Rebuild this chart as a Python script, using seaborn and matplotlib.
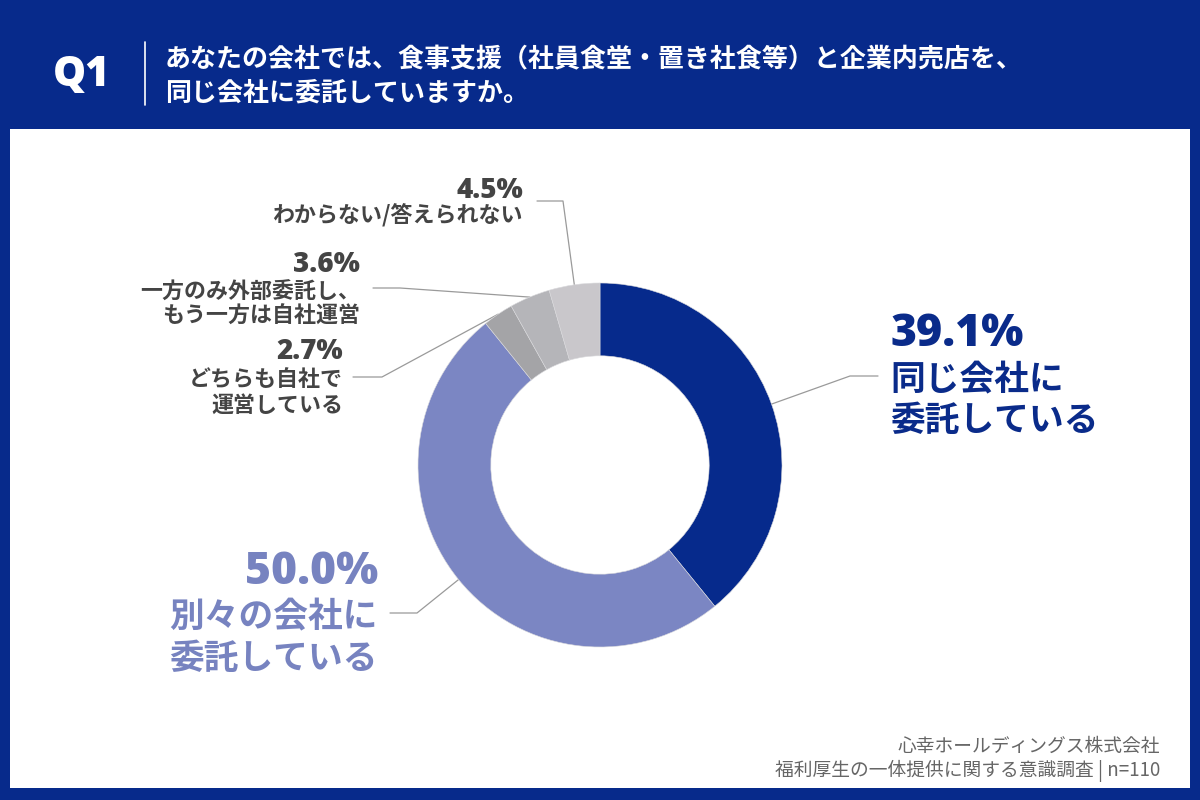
import matplotlib
matplotlib.use("Agg")
import matplotlib.pyplot as plt
import seaborn as sns
import numpy as np
from matplotlib.patches import Rectangle
from matplotlib.lines import Line2D

# ---- data ----
categories = ["同じ会社に\n委託している", "別々の会社に\n委託している", "どちらも自社で\n運営している",
              "一方のみ外部委託し、\nもう一方は自社運営", "わからない/答えられない"]
values = [39.1, 50.0, 2.7, 3.6, 4.5]
pct_labels = ["39.1%", "50.0%", "2.7%", "3.6%", "4.5%"]
title_lines = ["あなたの会社では、食事支援（社員食堂・置き社食等）と企業内売店を、",
               "同じ会社に委託していますか。"]
source_lines = ["心幸ホールディングス株式会社", "福利厚生の一体提供に関する意識調査 | n=110"]

NAVY = "#072a8b"
colors = sns.color_palette(["#062a8c", "#7b86c3", "#a4a4a7", "#b5b5b9", "#c9c7cb"])
text_colors = ["#0a2b8a", "#7783c0", "#444444", "#444444", "#444444"]

sns.set_theme(style="white")
plt.rcParams["font.family"] = ["Noto Sans CJK JP", "DejaVu Sans"]

W, H = 1200, 800
fig = plt.figure(figsize=(12, 8), dpi=100)
fig.patch.set_facecolor(NAVY)

def P(x, y):
    return (x / W, 1 - y / H)

# white panel
panel = Rectangle(P(10, 788), 1180 / W, 659 / H, transform=fig.transFigure,
                  facecolor="white", edgecolor="none", zorder=-5)
fig.patches.append(panel)

# header
fig.text(*P(82, 75), "Q1", color="white", fontsize=30, fontweight="heavy", ha="center", va="center",
         family=["Open Sans", "DejaVu Sans"])
fig.add_artist(Line2D([145 / W, 145 / W], [1 - 42 / H, 1 - 105 / H], color="white", lw=1.2))
fig.text(*P(165, 60), title_lines[0], color="white", fontsize=18.7, fontweight="bold", ha="left", va="center")
fig.text(*P(165, 93), title_lines[1], color="white", fontsize=18.7, fontweight="bold", ha="left", va="center")

# donut
cx, cy, R = 600, 465, 182
ax = fig.add_axes([(cx - R) / W, (H - cy - R) / H, 2 * R / W, 2 * R / H], zorder=3)
ax.patch.set_alpha(0)
wedges, _ = ax.pie(values, colors=colors, startangle=90, counterclock=False, radius=1.0,
                   wedgeprops=dict(width=0.4, edgecolor="#d9d9dc", linewidth=0.4))
ax.set_xlim(-1, 1)
ax.set_ylim(-1, 1)
ax.set_aspect("equal")
ax.axis("off")

inv = fig.transFigure.inverted()

def edge_point(w):
    ang = np.deg2rad((w.theta1 + w.theta2) / 2)
    disp = ax.transData.transform((np.cos(ang), np.sin(ang)))
    return inv.transform(disp)

layout = [
    dict(elbow=(850, 376), end=(878, 376), tx=890, ha="left", ys=[335, 380, 420], fs=(32, 25)),
    dict(elbow=(417, 613), end=(390, 613), tx=378, ha="right", ys=[573, 617, 658], fs=(32, 25)),
    dict(elbow=(382, 377), end=(353, 377), tx=343, ha="right", ys=[352, 379, 405], fs=(20, 15.8)),
    dict(elbow=(400, 288), end=(373, 288), tx=360, ha="right", ys=[265, 292, 316], fs=(20, 15.8)),
    dict(elbow=(563, 201), end=(537, 201), tx=523, ha="right", ys=[190, 215], fs=(20, 15.8)),
]

for w, lay, pct, cat, tc in zip(wedges, layout, pct_labels, categories, text_colors):
    sx, sy = edge_point(w)
    ex, ey = P(*lay["elbow"])
    tx, ty = P(*lay["end"])
    fig.add_artist(Line2D([sx, ex, tx], [sy, ey, ty], color="#9a9a9a", lw=0.9, zorder=1))
    lines = [pct] + cat.split("\n")
    for i, (t, y) in enumerate(zip(lines, lay["ys"])):
        fs = lay["fs"][0] if i == 0 else lay["fs"][1]
        fam = ["Open Sans", "DejaVu Sans"] if i == 0 else ["Noto Sans CJK JP", "DejaVu Sans"]
        fig.text(*P(lay["tx"], y), t, color=tc, fontsize=fs, fontweight="heavy" if i == 0 else "bold",
                 ha=lay["ha"], va="center", family=fam)

# source
fig.text(*P(1160, 746), source_lines[0], color="#666666", fontsize=13.5, ha="right", va="center")
fig.text(*P(1160, 771), source_lines[1], color="#666666", fontsize=13.5, ha="right", va="center")

fig.savefig("out.png", dpi=100, facecolor=NAVY)
